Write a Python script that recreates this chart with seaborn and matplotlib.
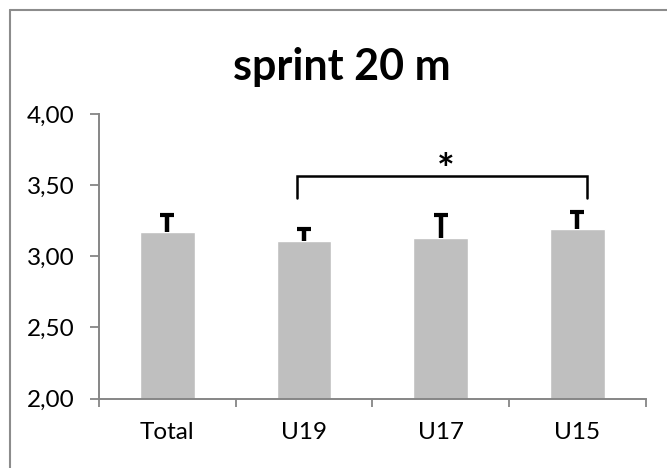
import matplotlib
matplotlib.use("Agg")
import matplotlib.pyplot as plt
from matplotlib.lines import Line2D
import seaborn as sns
import pandas as pd

# Data: mean 20 m sprint time (s) per group with upper SD
groups = ["Total", "U19", "U17", "U15"]
means = [3.17, 3.11, 3.13, 3.19]
sds = [0.12, 0.08, 0.16, 0.12]
y_ticks = [2.0, 2.5, 3.0, 3.5, 4.0]
y_tick_labels = ["2,00", "2,50", "3,00", "3,50", "4,00"]
title = "sprint 20 m"
# significance bracket between U19 and U15
sig_pair = ("U19", "U15")
sig_level = 3.565
sig_leg_bottom = 3.41
sig_mark = "*"

sns.set_theme(style="white")
plt.rcParams["font.family"] = ["Lato", "DejaVu Sans"]

df = pd.DataFrame({"group": groups, "mean": means, "sd": sds})

fig = plt.figure(figsize=(6.67, 4.68), dpi=100)
ax = fig.add_axes([0.1484, 0.1483, 0.8196, 0.6081])

sns.barplot(data=df, x="group", y="mean", color="#BFBFBF", saturation=1,
            width=0.4, errorbar=None, ax=ax)

# upper-only error bars (the lower cap at the bar top is hidden)
_, caps, _ = ax.errorbar(range(len(groups)), df["mean"],
                         yerr=[[0] * len(groups), df["sd"]],
                         fmt="none", ecolor="black", elinewidth=3.2,
                         capsize=4.8, capthick=3.0, zorder=3)
caps[0].set_visible(False)

ax.set_ylim(2.0, 4.0)
ax.set_xlim(-0.5, len(groups) - 0.5)
ax.set_yticks(y_ticks)
ax.set_yticklabels(y_tick_labels)
ax.set_xlabel("")
ax.set_ylabel("")

# category ticks sit between the bars
ax.set_xticks([i - 0.5 for i in range(len(groups) + 1)], minor=True)
ax.tick_params(axis="x", which="major", length=0, pad=17, labelsize=17.5,
               labelcolor="black")
ax.tick_params(axis="x", which="minor", length=6, width=1.3, color="#868686",
               direction="out", bottom=True)
ax.tick_params(axis="y", which="major", length=6.5, width=1.3, color="#868686",
               direction="out", left=True, pad=11, labelsize=17.5,
               labelcolor="black")

for side in ("top", "right"):
    ax.spines[side].set_visible(False)
for side in ("left", "bottom"):
    ax.spines[side].set_color("#868686")
    ax.spines[side].set_linewidth(1.4)

# significance bracket
x1 = groups.index(sig_pair[0]) - 0.05
x2 = groups.index(sig_pair[1]) + 0.07
ax.plot([x1, x1, x2, x2], [sig_leg_bottom, sig_level, sig_level, sig_leg_bottom],
        color="black", lw=1.8, solid_joinstyle="miter", clip_on=False)
ax.text((x1 + x2) / 2 + 0.03, 3.59, sig_mark, ha="center", va="center",
        fontsize=30, fontweight="bold", color="black")

fig.text(0.513, 1 - 80 / 468, title, ha="center", va="baseline",
         fontsize=31, fontweight="bold", color="black")

# chart frame
frame_kw = dict(color="#8c8c8c", lw=1.5, transform=fig.transFigure)
fig.add_artist(Line2D([10 / 667, 10 / 667], [0, 1 - 10 / 468], **frame_kw))
fig.add_artist(Line2D([10 / 667, 1], [1 - 10 / 468, 1 - 10 / 468], **frame_kw))

fig.savefig("out.png", dpi=100)
